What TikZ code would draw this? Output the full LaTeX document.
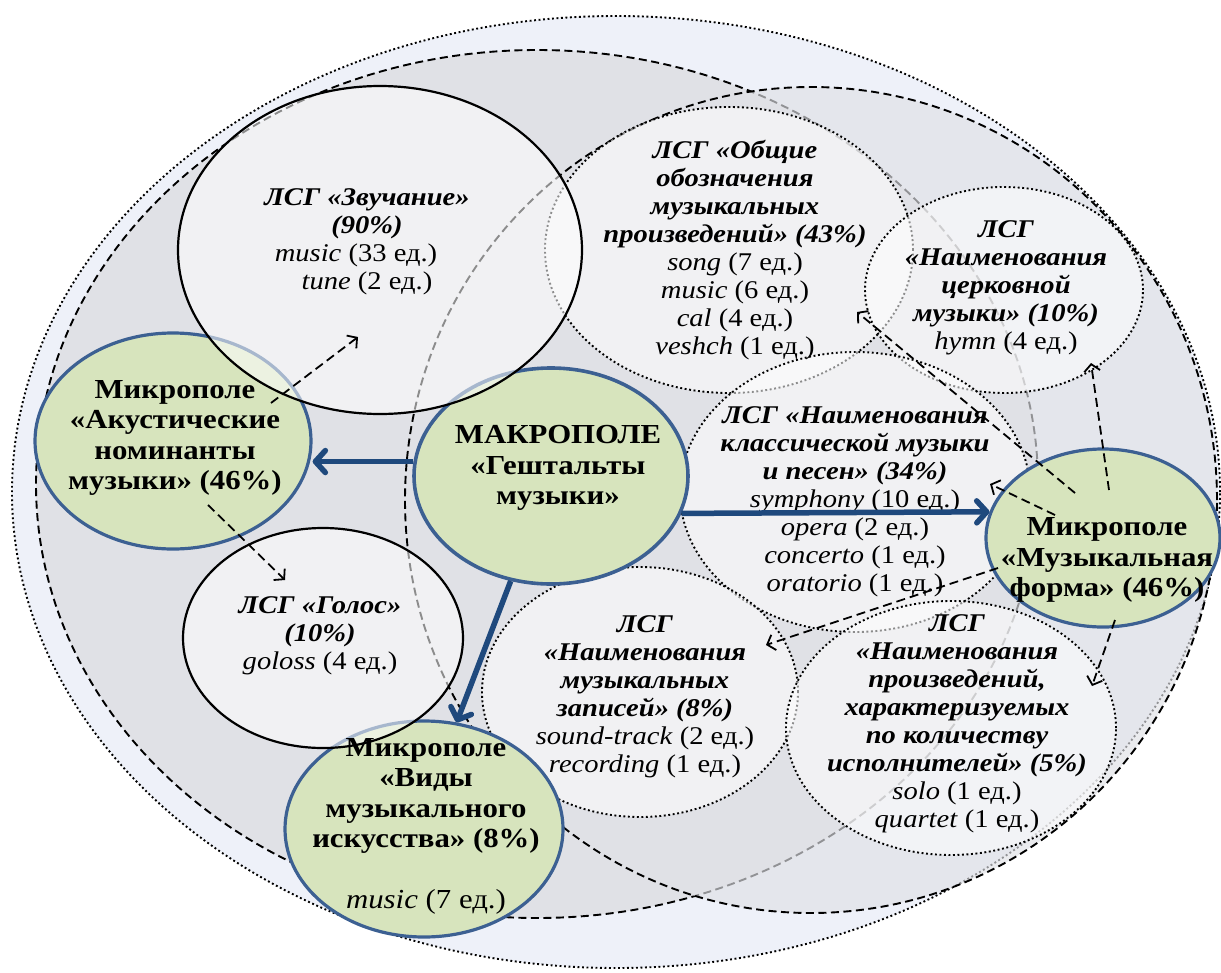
\documentclass[tikz,border=0pt]{standalone}
\usepackage{fontspec}
\setmainfont{Liberation Serif}[FakeStretch=1.12]
\usetikzlibrary{shapes.geometric,arrows.meta}
\definecolor{outerblue}{RGB}{238,241,249}
\definecolor{greyA}{RGB}{224,225,230}
\definecolor{microgreen}{RGB}{215,228,189}
\definecolor{microline}{RGB}{60,96,146}
\definecolor{arrowblue}{RGB}{31,73,125}
\newcommand{\lsgb}[1]{\textbf{\textit{#1}}}
\begin{document}
\begin{tikzpicture}[x=1pt,y=-1pt,
  esize/.style 2 args={ellipse,inner sep=0pt,minimum width=#1pt,minimum height=#2pt},
  outerE/.style={draw=black,fill=outerblue,line width=1.9pt,dash pattern=on 1.9pt off 2.6pt},
  bigA/.style={draw=black,fill=greyA,line width=1.9pt,dash pattern=on 8pt off 4.5pt},
  bigB/.style={draw=black,fill=greyA,fill opacity=0.65,line width=1.9pt,dash pattern=on 8pt off 4.5pt},
  lsgdot/.style={draw=black,fill=white,fill opacity=0.55,line width=1.9pt,dash pattern=on 1.9pt off 2.6pt},
  lsgsolid/.style={draw=black,fill=white,fill opacity=0.55,line width=2.2pt},
  micro/.style={draw=microline,fill=microgreen,line width=3.2pt},
  lsgtext/.style={align=center,inner sep=0pt,font=\fontsize{25.5}{28}\selectfont},
  microtext/.style={align=center,inner sep=0pt,font=\fontsize{27.5}{30.5}\selectfont\bfseries},
  bluearrow/.style={draw=arrowblue,line width=5.5pt,-{Straight Barb[length=10pt,width=22pt,line cap=round,line join=round]}},
  dasharrow/.style={draw=black,line width=1.8pt,dash pattern=on 9pt off 5pt,-{Straight Barb[length=7pt,width=16pt]}}
]
\fill[white] (0,0) rectangle (1221,972);
\useasboundingbox (0,0) rectangle (1221,972);

% layered shapes
\node[outerE,esize={1208}{952}] (outer) at (616,492) {};
\node[bigA,esize={1002}{868}] (ellA) at (537,484) {};
\node[bigB,esize={812}{826}] (ellB) at (811,500) {};
\node[lsgdot,esize={368}{286}] (obsh) at (729,250) {};
\node[lsgdot,esize={278}{206}] (cerk) at (1004,290) {};
\node[lsgdot,esize={350}{280}] (klass) at (855,492) {};
\node[lsgdot,esize={316}{250}] (zap) at (640,692) {};
\node[lsgdot,esize={330}{254}] (isp) at (951,728) {};
\node[micro,line width=3.6pt,esize={274}{216}] (mak) at (551,476) {};
\node[micro,esize={276}{216}] (ak) at (173,441) {};
\node[micro,esize={278}{216}] (vid) at (424,829) {};
\node[micro,esize={234}{178}] (mf) at (1103,538) {};
\node[lsgsolid,esize={404}{328}] (zv) at (380,250) {};
\node[lsgsolid,esize={280}{220}] (gol) at (323,638) {};

% texts
\node[lsgtext] (zvT) at (367,242) {\lsgb{ЛСГ «Звучание»}\\ \lsgb{(90\%)}\\ \textit{music} (33 ед.)\kern22pt\\ \textit{tune} (2 ед.)};
\node[lsgtext] (obshT) at (735,250) {\lsgb{ЛСГ «Общие}\\ \lsgb{обозначения}\\ \lsgb{музыкальных}\\ \lsgb{произведений» (43\%)}\\ \textit{song} (7 ед.)\\ \textit{music} (6 ед.)\\ \textit{cal} (4 ед.)\\ \textit{veshch} (1 ед.)};
\node[lsgtext] (cerkT) at (1006,288) {\lsgb{ЛСГ}\\ \lsgb{«Наименования}\\ \lsgb{церковной}\\ \lsgb{музыки» (10\%)}\\ \textit{hymn} (4 ед.)};
\node[lsgtext] (klassT) at (855,502) {\lsgb{ЛСГ «Наименования}\\ \lsgb{классической музыки}\\ \lsgb{и песен» (34\%)}\\ \textit{symphony} (10 ед.)\\ \textit{opera} (2 ед.)\\ \textit{concerto} (1 ед.)\\ \textit{oratorio} (1 ед.)};
\node[lsgtext] (zapT) at (645,697) {\lsgb{ЛСГ}\\ \lsgb{«Наименования}\\ \lsgb{музыкальных}\\ \lsgb{записей» (8\%)}\\ \textit{sound-track} (2 ед.)\\ \textit{recording} (1 ед.)};
\node[lsgtext] (ispT) at (957,724) {\lsgb{ЛСГ}\\ \lsgb{«Наименования}\\ \lsgb{произведений,}\\ \lsgb{характеризуемых}\\ \lsgb{по количеству}\\ \lsgb{исполнителей» (5\%)}\\ \textit{solo} (1 ед.)\\ \textit{quartet} (1 ед.)};
\node[lsgtext] (golT) at (320,636) {\lsgb{ЛСГ «Голос»}\\ \lsgb{(10\%)}\\ \textit{goloss} (4 ед.)};
\node[microtext] (akT) at (175,438) {Микрополе\\ «Акустические\\ номинанты\\ музыки» (46\%)};
\node[microtext] (makT) at (558,468) {МАКРОПОЛЕ\\ «Гештальты\\ музыки»};
\node[microtext] (mfT) at (1107,560) {Микрополе\\ «Музыкальная\\ форма» (46\%)};
\node[microtext] (vidT) at (426,826) {Микрополе\\ «Виды\\ музыкального\\ искусства» (8\%)\\[30pt] {\mdseries\textit{music} (7 ед.)}};

% solid blue arrows
\draw[bluearrow] (mak.174) -- (mak.174 -| ak.east);
\draw[bluearrow] (mak.-16) -- (mf.167);
\draw[bluearrow] (mak.-111) -- (vid.73);

% dashed arrows
\coordinate (d1s) at (271,403); \coordinate (d1e) at (358,337);
\coordinate (d2s) at (208,505); \coordinate (d2e) at (285,580);
\coordinate (d3s) at (1075,493); \coordinate (d3e) at (857,312);
\coordinate (d4s) at (1055,515); \coordinate (d4e) at (990,484);
\coordinate (d5s) at (1109,490); \coordinate (d5e) at (1091,363);
\coordinate (d6s) at (998,568); \coordinate (d6e) at (766,645);
\coordinate (d7s) at (1115,620); \coordinate (d7e) at (1092,686);
\draw[dasharrow] (d1s) -- (d1e);
\draw[dasharrow] (d2s) -- (d2e);
\draw[dasharrow] (d3s) -- (d3e);
\draw[dasharrow] (d4s) -- (d4e);
\draw[dasharrow] (d5s) -- (d5e);
\draw[dasharrow] (d6s) -- (d6e);
\draw[dasharrow] (d7s) -- (d7e);
\end{tikzpicture}
\end{document}
